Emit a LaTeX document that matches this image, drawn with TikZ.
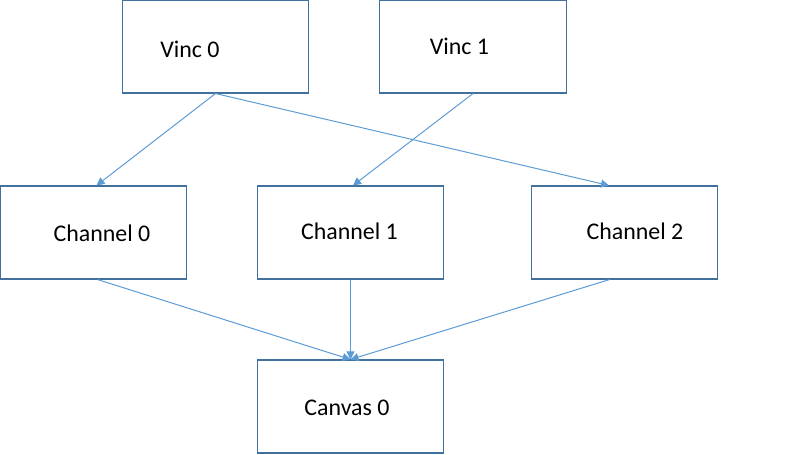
\documentclass[tikz,border=0pt]{standalone}
\usepackage{fontspec}
\setmainfont{Carlito}
\usetikzlibrary{arrows.meta, calc}

\definecolor{boxline}{HTML}{41719C}
\definecolor{linkline}{HTML}{5B9BD5}

\begin{document}
\begin{tikzpicture}[x=0.025cm, y=-0.025cm,
  box/.style={draw=boxline, line width=0.75pt, minimum width=186.5*0.025cm,
    minimum height=93*0.025cm, inner sep=0pt},
  word/.style={inner sep=0pt, font=\fontsize{17}{20}\selectfont},
  link/.style={draw=linkline, line width=0.7pt, -{Triangle[length=0.2cm, width=0.2cm]}}]
\useasboundingbox (0,0) rectangle (800,454);
% Draw boxes
\node[box] (vinc0) at (215.5,46.5) {};
\node[box] (vinc1) at (473,46.5) {};
\node[box] (chan0) at (93.5,232.5) {};
\node[box] (chan1) at (350.5,232.5) {};
\node[box] (chan2) at (624.5,232.5) {};
\node[box] (canvas0) at (350.5,406.5) {};
% Texts in the boxes
\node[word] (vinc0text) at ($(vinc0)+(-25.5,2.5)$) {Vinc 0};
\node[word] (vinc1text) at ($(vinc1)+(-13.5,0)$) {Vinc 1};
\node[word] (chan0text) at ($(chan0)+(8.5,1)$) {Channel 0};
\node[word] (chan1text) at ($(chan1)+(-1,-1)$) {Channel 1};
\node[word] (chan2text) at ($(chan2)+(10.5,-1)$) {Channel 2};
\node[word] (canvas0text) at ($(canvas0)+(-3.5,1)$) {Canvas 0};
% Arrows from the Vincs
\draw[link] (vinc0.south) -- ($(chan0.north)+(3,0)$);
\draw[link] (vinc0.south) -- ($(chan2.north)+(-15.5,0)$);
\draw[link] (vinc1.south) -- ($(chan1.north)+(2.5,0)$);
% Arrows to the canvas
\draw[link] ($(chan0.south)+(4,0)$) -- (canvas0.north);
\draw[link] (chan1.south) -- (canvas0.north);
\draw[link] ($(chan2.south)+(-15,0)$) -- (canvas0.north);
\end{tikzpicture}
\end{document}
